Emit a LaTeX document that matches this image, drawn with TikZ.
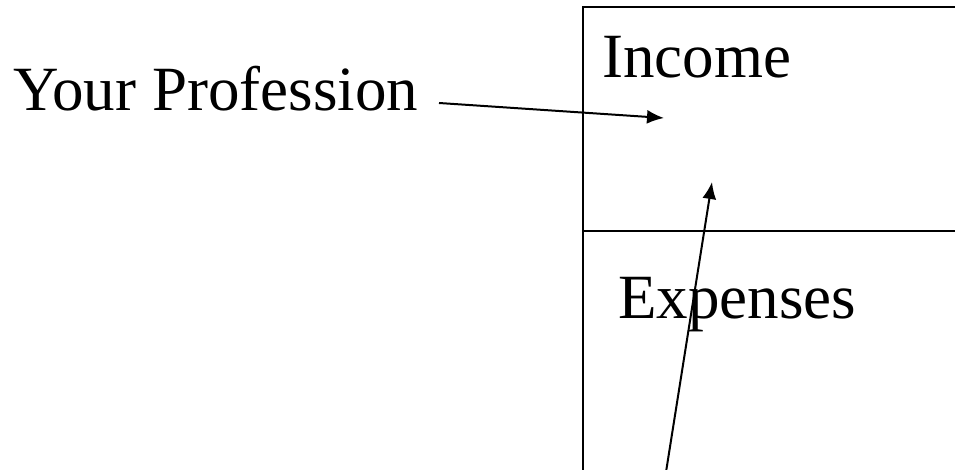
\documentclass[tikz,border=0pt]{standalone}
\usepackage{fontspec}
\setmainfont{Liberation Serif}
\usetikzlibrary{arrows.meta}
\begin{document}
\begin{tikzpicture}[x=1pt,y=-1pt,
  lbl/.style={anchor=base west,inner sep=0pt,font=\fontsize{63}{70}\selectfont},
  boxline/.style={line width=2.2pt},
  arr/.style={line width=2pt,-{Latex[length=17pt,width=14pt]}}]
\useasboundingbox (0,0) rectangle (955,470);
% box
\draw[boxline] (956,7) -- (583,7) -- (583,472);
\draw[boxline] (583,231) -- (956,231);
% texts
\node[lbl] (prof) at (13,111) {Your Profession};
\node[lbl] (inc) at (602,78) {Income};
\node[lbl] (exp) at (618,318) {Expenses};
% arrows
\coordinate (a1s) at (439,103);
\coordinate (a1e) at (664,118);
\coordinate (a2s) at (666,472);
\coordinate (a2e) at (712,182);
\draw[arr] (a1s) -- (a1e);
\draw[arr] (a2s) -- (a2e);
\end{tikzpicture}
\end{document}
